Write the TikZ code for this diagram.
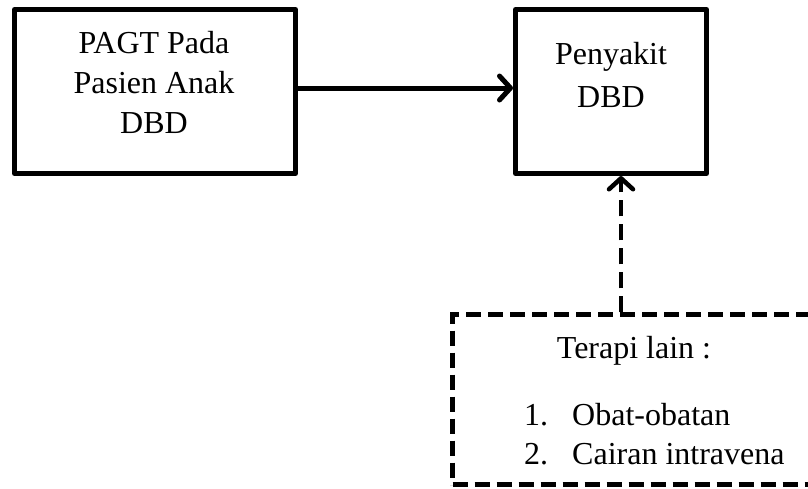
\documentclass[tikz,border=0pt]{standalone}
\usepackage{fontspec}
\setmainfont{Liberation Serif}
\usetikzlibrary{arrows.meta}
\begin{document}
\begin{tikzpicture}[x=1pt,y=-1pt,
  boxA/.style={draw,line width=5pt,line join=round,inner sep=0pt},
  boxD/.style={draw,line width=4.5pt,dash pattern=on 15pt off 7pt,inner sep=0pt},
  txt/.style={inner sep=0pt,font=\fontsize{32}{40}\selectfont},
  conn/.style={line width=5pt,-{Straight Barb[length=11pt,width=24pt,line cap=round,line join=round]}},
  dconn/.style={line width=4.5pt,dash pattern=on 16pt off 8pt,-{Straight Barb[length=11pt,width=24pt,line cap=round,line join=round]}}]
\useasboundingbox (0,0) rectangle (808,488);
\begin{scope}
\clip (0,0) rectangle (808,488);
\node[boxA,minimum width=281pt,minimum height=164pt] (b1) at (155,91.5) {};
\node[boxA,minimum width=191pt,minimum height=164pt] (b2) at (611,91.5) {};
\node[boxD,minimum width=380pt,minimum height=170pt] (d) at (642.5,399.5) {};
\node[txt,align=center,anchor=north] (t1) at (154,31) {PAGT Pada\\Pasien Anak\\DBD};
\node[txt,align=center,anchor=north,font=\fontsize{32}{43}\selectfont] (t2) at (611,42) {Penyakit\\DBD};
\node[txt,anchor=base] (t3) at (634,358) {Terapi lain :};
\node[txt,anchor=base west] (n1) at (524,425) {1.};
\node[txt,anchor=base west] (i1) at (572,425) {Obat-obatan};
\node[txt,anchor=base west] (n2) at (524,464) {2.};
\node[txt,anchor=base west] (i2) at (572,464) {Cairan intravena};
\coordinate (ax) at (621,0);
\draw[conn] ([yshift=3.5pt]b1.east) -- ([yshift=3.5pt]b2.west);
\draw[dconn] (d.north -| ax) -- (b2.south -| ax);
\end{scope}
\end{tikzpicture}
\end{document}
